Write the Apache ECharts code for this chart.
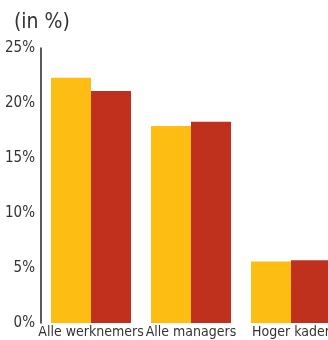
<!DOCTYPE html>
<html><head><meta charset="utf-8">
<script src="https://cdn.jsdelivr.net/npm/echarts@6/dist/echarts.min.js"></script>
<style>html,body{margin:0;padding:0;background:#fff}#c{width:328px;height:340px}</style>
</head><body><div id="c"></div>
<script>
const categories = ["Alle werknemers", "Alle managers", "Hoger kader"];
const seriesA = [22.3, 17.9, 5.6];
const seriesB = [21.1, 18.3, 5.7];
const yTicks = [0, 5, 10, 15, 20, 25];

const chart = echarts.init(document.getElementById('c'), null, {renderer: 'canvas'});
const font = '"DejaVu Sans Condensed", "Liberation Sans Narrow", sans-serif';
chart.setOption({
  animation: false,
  title: {text: '(in %)', left: 9, top: 7, textStyle: {fontFamily: font, fontSize: 21, fontWeight: 'normal', color: '#333'}},
  grid: {left: 41, width: 300, top: 48, bottom: 17, containLabel: false, outerBoundsMode: 'none'},
  xAxis: {type: 'category', data: categories, axisLine: {show: false}, axisTick: {show: false},
    axisLabel: {interval: 0, margin: 2, hideOverlap: false, fontFamily: font, fontSize: 14, color: '#333'}},
  yAxis: {type: 'value', min: 0, max: 25, interval: 5, splitLine: {show: false},
    axisLine: {show: true, lineStyle: {color: '#222', width: 1.5}}, axisTick: {show: false},
    axisLabel: {margin: 6, fontFamily: font, fontSize: 15, color: '#333', formatter: v => yTicks.includes(v) ? v + '%' : ''}},
  series: [
    {type: 'bar', data: seriesA, barWidth: 40, barGap: '0%', itemStyle: {color: '#FDBD12'}},
    {type: 'bar', data: seriesB, barWidth: 40, barGap: '0%', itemStyle: {color: '#BF311D'}}
  ]
});
</script></body></html>
